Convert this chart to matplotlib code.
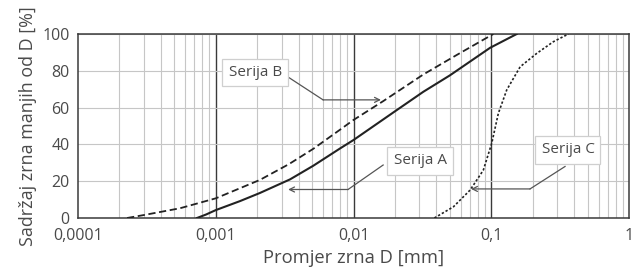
import matplotlib
matplotlib.use("Agg")
import matplotlib.pyplot as plt
from matplotlib.ticker import FixedLocator, LogLocator, NullFormatter

plt.rcParams['font.family'] = ['Open Sans', 'DejaVu Sans']

# ---- data ----
a_d = [0.00073, 0.00085, 0.001, 0.0015, 0.00209, 0.00346, 0.0051, 0.00798, 0.01, 0.02, 0.0321, 0.05, 0.098, 0.153]
a_p = [0, 1.9, 4.3, 9.2, 13.6, 21.0, 28.4, 37.8, 42.4, 58, 68.6, 77.5, 92.5, 100]

b_d = [0.000227, 0.0003, 0.00055, 0.001, 0.00209, 0.0034, 0.0051, 0.00798, 0.01, 0.0164, 0.0321, 0.0561, 0.1035]
b_p = [0, 1.6, 5.3, 10.7, 20.7, 29.3, 37.6, 48, 53.3, 63.5, 78, 88.6, 100]

c_d = [0.0386, 0.0531, 0.0702, 0.0875, 0.1007, 0.1125, 0.1294, 0.162, 0.214, 0.282, 0.363]
c_p = [0, 6.1, 15.2, 26, 40.6, 56.9, 69.6, 82.2, 89.5, 95.8, 100]

x_ticks = [0.0001, 0.001, 0.01, 0.1, 1]
x_tick_labels = ["0,0001", "0,001", "0,01", "0,1", "1"]
y_ticks = [0, 20, 40, 60, 80, 100]

series_labels = ["Serija A", "Serija B", "Serija C"]
# label box centre, leader start, leader kink, arrow tip (data coords)
label_pos = [(0.0304, 31), (0.00193, 79), (0.36, 37)]
leader_start = [(0.0164, 28.8), (0.00335, 76.6), (0.343, 28)]
leader_kink = [(0.00912, 15.5), (0.00601, 64.2), (0.191, 15.8)]
leader_tip = [(0.00335, 15.5), (0.0158, 64.2), (0.0713, 15.8)]

# ---- figure ----
fig = plt.figure(figsize=(6.38, 2.72), dpi=100)
ax = fig.add_axes([0.1223, 0.1985, 0.8637, 0.6765])
ax.set_xscale('log')
ax.set_xlim(0.0001, 1)
ax.set_ylim(0, 100)

text_col = '#4a4a4a'
grid_col = '#c6c6c6'
dark = '#3a3a3a'

# grid
ax.xaxis.set_minor_locator(LogLocator(base=10, subs=range(2, 10), numticks=20))
ax.xaxis.set_minor_formatter(NullFormatter())
ax.grid(True, which='minor', axis='x', color=grid_col, lw=0.8)
ax.yaxis.set_major_locator(FixedLocator(y_ticks))
ax.grid(True, which='major', axis='y', color=grid_col, lw=0.8)
for xv in x_ticks[1:-1]:
    ax.axvline(xv, color=dark, lw=1.0, zorder=1.5)

ax.set_xticks(x_ticks)
ax.set_xticklabels(x_tick_labels)
ax.tick_params(axis='both', which='both', length=0, labelsize=11.5, colors=text_col, pad=6)
ax.tick_params(axis='x', pad=7)
for s in ax.spines.values():
    s.set_color(dark)
    s.set_linewidth(1.1)

# curves
ax.plot(a_d, a_p, color='#222222', lw=1.5, zorder=3)
ax.plot(b_d, b_p, color='#222222', lw=1.3, ls=(0, (4, 2)), zorder=3)
ax.plot(c_d, c_p, color='#222222', lw=1.2, ls=(0, (1.4, 1.2)), zorder=3)

# annotations
lead_col = '#555555'
for lab, pos, st, kn, tp in zip(series_labels, label_pos, leader_start, leader_kink, leader_tip):
    ax.plot([st[0], kn[0]], [st[1], kn[1]], color=lead_col, lw=0.9, zorder=4)
    ax.annotate('', xy=tp, xytext=kn,
                arrowprops=dict(arrowstyle='->', color=lead_col, lw=0.9,
                                shrinkA=0, shrinkB=0, mutation_scale=9), zorder=4)
    ax.text(pos[0], pos[1], lab, ha='center', va='center', fontsize=11, color=text_col, zorder=5,
            bbox=dict(boxstyle='square,pad=0.4', fc='white', ec='#cfcfcf', lw=0.9))

ax.set_xlabel("Promjer zrna D [mm]", fontsize=13.2, color=text_col, labelpad=4)
ax.set_ylabel("Sadržaj zrna manjih od D [%]", fontsize=12.9, color=text_col, labelpad=4)

fig.savefig("out.png", dpi=100)
